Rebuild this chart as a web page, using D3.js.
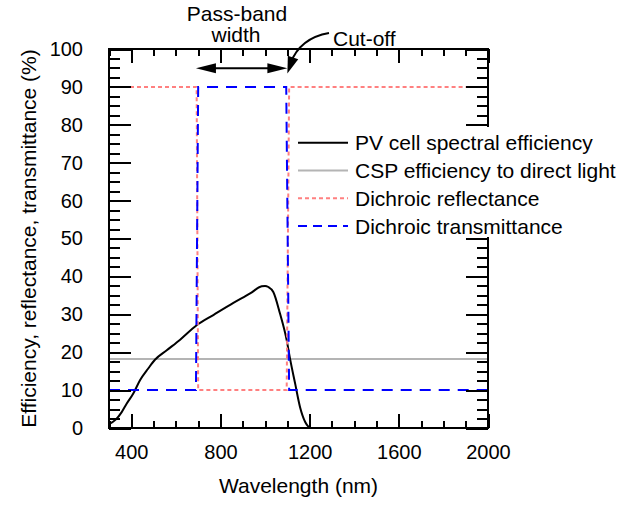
<!DOCTYPE html>
<html><head><meta charset="utf-8">
<script src="https://cdn.jsdelivr.net/npm/d3@7"></script>
</head><body style="margin:0"><svg id="c" width="633" height="506" font-family="Liberation Sans, Arial, sans-serif"></svg>
<script>
// ---- data ----
const pvWavelength = [300,330,357,379,409,439,476,506,559,619,693,768,858,933,985,1000,1015,1037,1067,1097,1112,1135,1157,1180,1195,1200];
const pvEfficiency = [1,2.2,4.2,6.4,9.1,12.6,15.7,18,20.5,23.3,27.1,29.8,33,35.5,37.4,37.5,37.2,35.9,30.2,23.2,18.3,11.7,5.5,1.6,0.3,0];
const cspWavelength = [300,2000];
const cspEfficiency = [18.2,18.2];
const reflWavelength = [300,693,700,1097,1108,2000];
const reflValues = [90,90,10,10,90,90];
const transWavelength = [300,690,700,1095,1108,2000];
const transValues = [10,10,90,90,10,10];
const xTickLabels = [400,800,1200,1600,2000];
const xMinorTicks = [300,500,600,700,900,1000,1100,1300,1400,1500,1700,1800,1900];
const yTickLabels = [0,10,20,30,40,50,60,70,80,90,100];
const legendLabels = ["PV cell spectral efficiency","CSP efficiency to direct light","Dichroic reflectance","Dichroic transmittance"];

const svg = d3.select("#c");
const L=109, R=488, T=49, B=428;
const x = d3.scaleLinear().domain([300,2000]).range([L,R]);
const y = d3.scaleLinear().domain([0,100]).range([B,T]);
const yMinor = d3.range(0,101,2.5).filter(v=>v%10!==0);

const series = [
  {wl: pvWavelength, v: pvEfficiency, color:"#000000", dash:null, curve:d3.curveMonotoneX},
  {wl: cspWavelength, v: cspEfficiency, color:"#b4b4b4", dash:null, curve:d3.curveLinear},
  {wl: reflWavelength, v: reflValues, color:"#ff8080", dash:"4,3", curve:d3.curveLinear},
  {wl: transWavelength, v: transValues, color:"#0000ff", dash:"11,8", curve:d3.curveLinear}
];
const legendDash = [null,null,"4,3","9,6"];

[1,0,2,3].forEach(i=>{
  const s=series[i];
  const pts = s.wl.map((w,j)=>[w,s.v[j]]);
  const p = svg.append("path").attr("d", d3.line().x(d=>x(d[0])).y(d=>y(d[1])).curve(s.curve)(pts))
    .attr("fill","none").attr("stroke",s.color).attr("stroke-width",2);
  if (s.dash) p.attr("stroke-dasharray",s.dash);
});

const axColor = "#000000";
const fmt = d3.format("d");
function styleAxis(g){
  g.attr("color",axColor);
  g.selectAll(".tick line").attr("stroke",axColor).attr("stroke-width",2).attr("shape-rendering","crispEdges");
  g.selectAll(".domain").remove();
}
function styleText(g){
  g.selectAll("text").attr("font-size",20).attr("fill","#000").attr("font-family","Liberation Sans, Arial, sans-serif");
}
svg.append("g").attr("transform",`translate(0,${B})`)
  .call(d3.axisBottom(x).tickValues(xTickLabels).tickFormat(fmt).tickSizeInner(-14).tickSizeOuter(0).tickPadding(17))
  .call(styleAxis).call(styleText);
svg.append("g").attr("transform",`translate(0,${B})`)
  .call(d3.axisBottom(x).tickValues(xMinorTicks).tickSizeInner(-7).tickSizeOuter(0).tickFormat(""))
  .call(styleAxis);
svg.append("g").attr("transform",`translate(0,${T})`)
  .call(d3.axisTop(x).tickValues(xTickLabels).tickSizeInner(-14).tickSizeOuter(0).tickFormat("")).call(styleAxis);
svg.append("g").attr("transform",`translate(0,${T})`)
  .call(d3.axisTop(x).tickValues(xMinorTicks).tickSizeInner(-7).tickSizeOuter(0).tickFormat("")).call(styleAxis);
svg.append("g").attr("transform",`translate(${L},0)`)
  .call(d3.axisLeft(y).tickValues(yTickLabels).tickFormat(fmt).tickSizeInner(-22).tickSizeOuter(0).tickPadding(26))
  .call(styleAxis).call(styleText);
svg.append("g").attr("transform",`translate(${L},0)`)
  .call(d3.axisLeft(y).tickValues(yMinor).tickSizeInner(-11).tickSizeOuter(0).tickFormat("")).call(styleAxis);
svg.append("g").attr("transform",`translate(${R},0)`)
  .call(d3.axisRight(y).tickValues(yTickLabels).tickSizeInner(-22).tickSizeOuter(0).tickFormat("")).call(styleAxis);
svg.append("g").attr("transform",`translate(${R},0)`)
  .call(d3.axisRight(y).tickValues(yMinor).tickSizeInner(-11).tickSizeOuter(0).tickFormat("")).call(styleAxis);
// frame
svg.append("rect").attr("x",L).attr("y",T).attr("width",R-L).attr("height",B-T)
  .attr("fill","none").attr("stroke",axColor).attr("stroke-width",2).attr("shape-rendering","crispEdges");

svg.append("text").attr("x",(L+R)/2).attr("y",493).attr("text-anchor","middle").attr("font-size",21).text("Wavelength (nm)");
svg.append("text").attr("transform",`translate(36,${(T+B)/2}) rotate(-90)`).attr("text-anchor","middle").attr("font-size",21)
  .text("Efficiency, reflectance, transmittance (%)");

// legend with white background
svg.append("rect").attr("x",293).attr("y",127).attr("width",320).attr("height",110).attr("fill","#ffffff");
legendLabels.forEach((t,i)=>{
  const yy = 142.7 + i*27.8;
  const ln = svg.append("line").attr("x1",298).attr("x2",348).attr("y1",yy).attr("y2",yy)
    .attr("stroke",series[i].color).attr("stroke-width",2);
  if (legendDash[i]) ln.attr("stroke-dasharray",legendDash[i]);
  svg.append("text").attr("x",355).attr("y",yy).attr("dy","0.36em").attr("font-size",21).text(t);
});

// annotations
svg.append("text").attr("x",237).attr("y",21).attr("text-anchor","middle").attr("font-size",21).text("Pass-band");
svg.append("text").attr("x",236).attr("y",42).attr("text-anchor","middle").attr("font-size",21).text("width");
svg.append("text").attr("x",333).attr("y",46).attr("font-size",21).text("Cut-off");

function head(tip, dir, len, hw){
  const n=Math.hypot(dir[0],dir[1]); const ux=dir[0]/n, uy=dir[1]/n;
  const bx=tip[0]-ux*len, by=tip[1]-uy*len;
  return `M${tip[0]},${tip[1]}L${bx-uy*hw},${by+ux*hw}L${bx+uy*hw},${by-ux*hw}Z`;
}
const arY = 68.3, arX1 = x(690), arX2 = x(1100);
svg.append("line").attr("x1",arX1+10).attr("x2",arX2-10).attr("y1",arY).attr("y2",arY).attr("stroke","black").attr("stroke-width",2);
svg.append("path").attr("d",head([arX1,arY],[-1,0],20,5)).attr("fill","black");
svg.append("path").attr("d",head([arX2,arY],[1,0],20,5)).attr("fill","black");

const tip=[x(1100),73.5], c1=[300,38], s0=[329,33];
svg.append("path").attr("d",`M${s0[0]},${s0[1]}Q${c1[0]},${c1[1]} ${tip[0]+3},${tip[1]-10}`)
  .attr("fill","none").attr("stroke","black").attr("stroke-width",2);
svg.append("path").attr("d",head(tip,[tip[0]-c1[0],tip[1]-c1[1]],17,5.5)).attr("fill","black");
</script></body></html>
